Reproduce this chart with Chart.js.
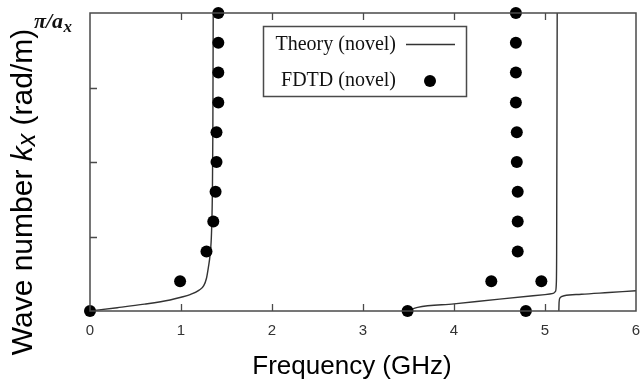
<!DOCTYPE html>
<html><head><meta charset="utf-8">
<script src="https://cdn.jsdelivr.net/npm/chart.js@4.4.0/dist/chart.umd.min.js"></script>
<style>html,body{margin:0;padding:0;background:#fff;}canvas{display:block;}</style>
</head><body>
<canvas id="c" width="642" height="380"></canvas>
<script>
// ---- data ----
const xTickLabels = ['0','1','2','3','4','5','6'];
const yTopLabelMain = 'π/a';
const yTopLabelSub = 'x';
const xTitle = 'Frequency (GHz)';
const yTitleParts = ['Wave number ', 'k', 'x', ' (rad/m)'];
const legendLabels = ['Theory (novel)', 'FDTD (novel)'];

// Theory branch 1
const theoryFreq1 = [0, 0.3, 0.6, 0.88, 1.0, 1.1, 1.2, 1.25, 1.28, 1.30, 1.32, 1.335, 1.345, 1.35, 1.354];
const theoryK1    = [0, 0.011, 0.023, 0.037, 0.046, 0.055, 0.07, 0.085, 0.11, 0.145, 0.19, 0.26, 0.4, 0.6, 1.0];
// Theory branch 2
const theoryFreq2 = [3.49, 3.6, 4.0, 4.5, 5.0, 5.09, 5.115, 5.124, 5.128, 5.134];
const theoryK2    = [0, 0.012, 0.024, 0.04, 0.055, 0.059, 0.066, 0.09, 0.2, 1.0];
// Theory branch 3
const theoryFreq3 = [5.152, 5.155, 5.165, 5.21, 5.4, 5.7, 6.0];
const theoryK3    = [0, 0.03, 0.044, 0.051, 0.056, 0.062, 0.068];
// FDTD points
const fdtdFreq = [0, 0.99, 1.28, 1.355, 1.38, 1.39, 1.39, 1.41, 1.41, 1.41, 1.41,
                  3.49, 4.41, 4.70, 4.70, 4.70, 4.69, 4.69, 4.68, 4.68, 4.68, 4.68, 4.96, 4.79];
const fdtdK    = [0, 0.1, 0.2, 0.3, 0.4, 0.5, 0.6, 0.7, 0.8, 0.9, 1.0,
                  0, 0.1, 0.2, 0.3, 0.4, 0.5, 0.6, 0.7, 0.8, 0.9, 1.0, 0.1, 0];

const pts = (xs, ys) => xs.map((x, i) => ({x: x, y: ys[i]}));

const AXIS_COLOR = '#4a4a4a';
const LINE_COLOR = '#333333';

const lineStyle = {
  showLine: true, pointRadius: 0, borderColor: LINE_COLOR, borderWidth: 1.4,
  cubicInterpolationMode: 'monotone', clip: false, order: 2
};

const decor = {
  id: 'decor',
  afterDraw(chart) {
    const ctx = chart.ctx;
    const a = chart.chartArea;
    const xs = chart.scales.x, ys = chart.scales.y;
    ctx.save();
    // frame
    ctx.strokeStyle = AXIS_COLOR;
    ctx.lineWidth = 1.5;
    ctx.strokeRect(a.left, a.top, a.right - a.left, a.bottom - a.top);
    // inner ticks
    const tl = 7;
    ctx.lineWidth = 1.3;
    ctx.beginPath();
    for (let v = 1; v < xTickLabels.length - 1; v++) {
      const px = Math.round(xs.getPixelForValue(v)) + 0.5;
      ctx.moveTo(px, a.bottom); ctx.lineTo(px, a.bottom - tl);
      ctx.moveTo(px, a.top); ctx.lineTo(px, a.top + tl);
    }
    ys.ticks.forEach(t => {
      if (t.value <= ys.min || t.value >= ys.max) return;
      const py = Math.round(ys.getPixelForValue(t.value)) + 0.5;
      ctx.moveTo(a.left, py); ctx.lineTo(a.left + tl, py);
    });
    ctx.stroke();

    // top y label  pi/a_x
    ctx.fillStyle = '#111';
    ctx.textBaseline = 'alphabetic';
    ctx.textAlign = 'left';
    const yTop = ys.getPixelForValue(ys.max);
    ctx.font = 'italic bold 22px "Liberation Serif"';
    const lx = 34, lb = yTop + 15;
    ctx.fillText(yTopLabelMain, lx, lb);
    const w1 = ctx.measureText(yTopLabelMain).width;
    ctx.font = 'italic bold 17px "Liberation Serif"';
    ctx.fillText(yTopLabelSub, lx + w1 + 0.5, lb + 4);

    // x title
    ctx.fillStyle = '#000';
    ctx.font = '26px "Liberation Sans"';
    ctx.textAlign = 'center';
    ctx.fillText(xTitle, 352, 374);

    // y title (rotated, mixed styles)
    ctx.save();
    ctx.translate(32, 192);
    ctx.rotate(-Math.PI / 2);
    const fN = '30px "Liberation Sans"', fI = 'italic 30px "Liberation Sans"', fS = 'italic 25px "Liberation Sans"';
    const fonts = [fN, fI, fS, fN];
    const offs = [0, 0, 3, 0];
    let widths = yTitleParts.map((s, i) => { ctx.font = fonts[i]; return ctx.measureText(s).width; });
    let total = widths.reduce((p, c) => p + c, 0);
    let cx = -total / 2;
    ctx.textAlign = 'left';
    yTitleParts.forEach((s, i) => {
      ctx.font = fonts[i];
      ctx.fillText(s, cx, offs[i]);
      cx += widths[i];
    });
    ctx.restore();

    // legend
    ctx.strokeStyle = AXIS_COLOR;
    ctx.lineWidth = 1.5;
    ctx.fillStyle = '#fff';
    ctx.fillRect(263, 26, 204, 70);
    ctx.strokeRect(263.5, 26.5, 203, 70);
    ctx.fillStyle = '#111';
    ctx.font = '20px "Liberation Serif"';
    ctx.textAlign = 'right';
    ctx.textBaseline = 'middle';
    ctx.fillText(legendLabels[0], 396, 45);
    ctx.fillText(legendLabels[1], 396, 81);
    ctx.strokeStyle = LINE_COLOR;
    ctx.lineWidth = 1.4;
    ctx.beginPath();
    ctx.moveTo(406, 44.5); ctx.lineTo(455, 44.5);
    ctx.stroke();
    ctx.fillStyle = '#000';
    ctx.beginPath();
    ctx.arc(430, 81, 6, 0, Math.PI * 2);
    ctx.fill();
    ctx.restore();
  }
};

new Chart(document.getElementById('c'), {
  type: 'scatter',
  data: {
    datasets: [
      { label: legendLabels[1], data: pts(fdtdFreq, fdtdK), pointRadius: 6, pointHoverRadius: 6,
        backgroundColor: '#000', borderColor: '#000', borderWidth: 0, showLine: false, clip: false, order: 1 },
      Object.assign({ label: legendLabels[0], data: pts(theoryFreq1, theoryK1) }, lineStyle),
      Object.assign({ label: legendLabels[0] + ' 2', data: pts(theoryFreq2, theoryK2) }, lineStyle),
      Object.assign({ label: legendLabels[0] + ' 3', data: pts(theoryFreq3, theoryK3) }, lineStyle)
    ]
  },
  options: {
    responsive: false,
    animation: false,
    devicePixelRatio: 1,
    layout: { padding: { top: 13, right: 5, left: 0, bottom: 0 } },
    plugins: { legend: { display: false }, tooltip: { enabled: false }, title: { display: false } },
    scales: {
      x: {
        type: 'linear', min: 0, max: 6,
        grid: { display: false, drawTicks: false },
        border: { display: false },
        ticks: { stepSize: 1, padding: 11, color: '#333', font: { family: 'Liberation Sans', size: 15 },
                 callback: (v) => xTickLabels[Math.round(v)] ?? '' },
        afterFit: (s) => { s.height = 69; s.paddingLeft = 0; s.paddingRight = 0; }
      },
      y: {
        type: 'linear', min: 0, max: 1,
        grid: { display: false, drawTicks: false },
        border: { display: false },
        ticks: { stepSize: 0.25, display: false },
        afterFit: (s) => { s.width = 90; s.paddingTop = 0; s.paddingBottom = 0; }
      }
    }
  },
  plugins: [decor]
});
</script>
</body></html>
